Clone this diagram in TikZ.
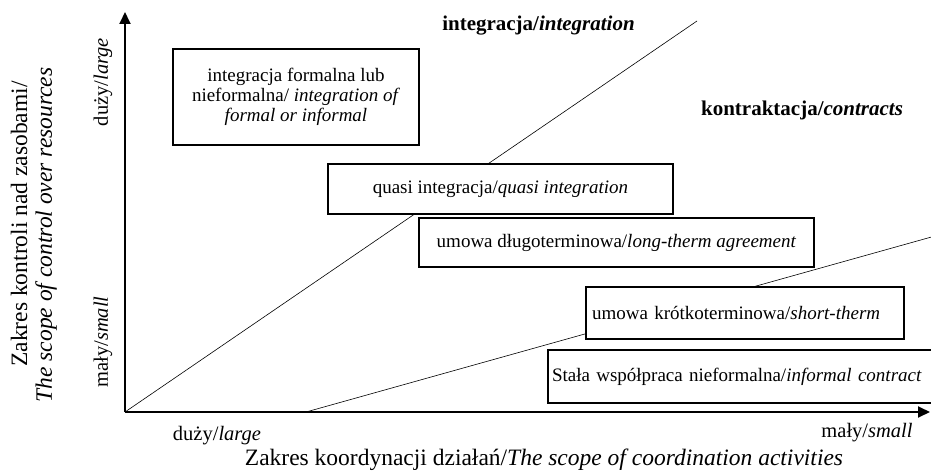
\documentclass[tikz,border=0pt]{standalone}
\usepackage{fontspec}
\setmainfont{Liberation Serif}
\usetikzlibrary{arrows.meta}
\tikzset{
  box/.style={draw, line width=1.3pt, fill=white, inner sep=0pt, anchor=center},
  axisline/.style={line width=1.8pt, -{Triangle[length=12pt,width=11pt]}},
  divline/.style={line width=0.6pt},
  boxtext/.style={font=\fontsize{19}{20}\selectfont},
  ticktext/.style={font=\fontsize{20.5}{22}\selectfont, inner sep=0pt},
  regiontext/.style={font=\fontsize{21}{23}\selectfont\bfseries, inner sep=0pt},
  titletext/.style={font=\fontsize{23.5}{26}\selectfont, inner sep=0pt}
}
\begin{document}
\begin{tikzpicture}[x=1pt,y=-1pt]
\useasboundingbox (0,0) rectangle (931,473);
\clip (0,0) rectangle (931,473);
% coordinates
\coordinate (O) at (125,412);
\coordinate (Ytop) at (125,12);
\coordinate (Xend) at (930,412);
\coordinate (L1a) at (125,412);
\coordinate (L1b) at (697,21);
\coordinate (L2a) at (306,412);
\coordinate (L2b) at (935,236);
% dividing lines
\draw[divline] (L1a) -- (L1b);
\draw[divline] (L2a) -- (L2b);
% axes
\draw[axisline] (O) -- (Ytop);
\draw[axisline] (O) -- (Xend);
% boxes
\node[box, boxtext, minimum width=246pt, minimum height=96pt, align=center] (b1) at (296,97)
  {integracja formalna lub\\nieformalna/ \textit{integration of}\\\textit{formal or informal}};
\node[box, boxtext, minimum width=345pt, minimum height=50pt] (b2) at (500.5,189)
  {quasi integracja/\textit{quasi integration}};
\node[box, boxtext, minimum width=395pt, minimum height=49pt] (b3) at (616.5,242.5)
  {umowa długoterminowa/\textit{long-therm agreement}};
\node[box, boxtext, minimum width=318pt, minimum height=52pt, inner xsep=6pt, text width=306pt, align=left] (b4) at (745,313)
  {umowa krótkoterminowa/\textit{short-therm}};
\node[box, boxtext, minimum width=402pt, minimum height=53pt, inner xsep=4pt, text width=394pt, align=left] (b5) at (749,376.5)
  {Stała współpraca nieformalna/\textit{informal contract}};
% region labels
\node[regiontext] (rint) at (538.5,26) {integracja/\textit{integration}};
\node[regiontext] (rcon) at (802,110) {kontraktacja/\textit{contracts}};
% tick labels
\node[ticktext] (xl) at (217,436) {duży/\textit{large}};
\node[ticktext] (xs) at (867,433) {mały/\textit{small}};
\node[ticktext, rotate=90] (yl) at (103,82) {duży/\textit{large}};
\node[ticktext, rotate=90] (ys) at (103,342) {mały/\textit{small}};
% axis titles
\node[titletext] (xt) at (544,460) {Zakres koordynacji działań/\textit{The scope of coordination activities}};
\node[titletext, rotate=90] (yt1) at (19,224) {Zakres kontroli nad zasobami/};
\node[titletext, rotate=90] (yt2) at (46,235) {\textit{The scope of control over resources}};
\end{tikzpicture}
\end{document}
